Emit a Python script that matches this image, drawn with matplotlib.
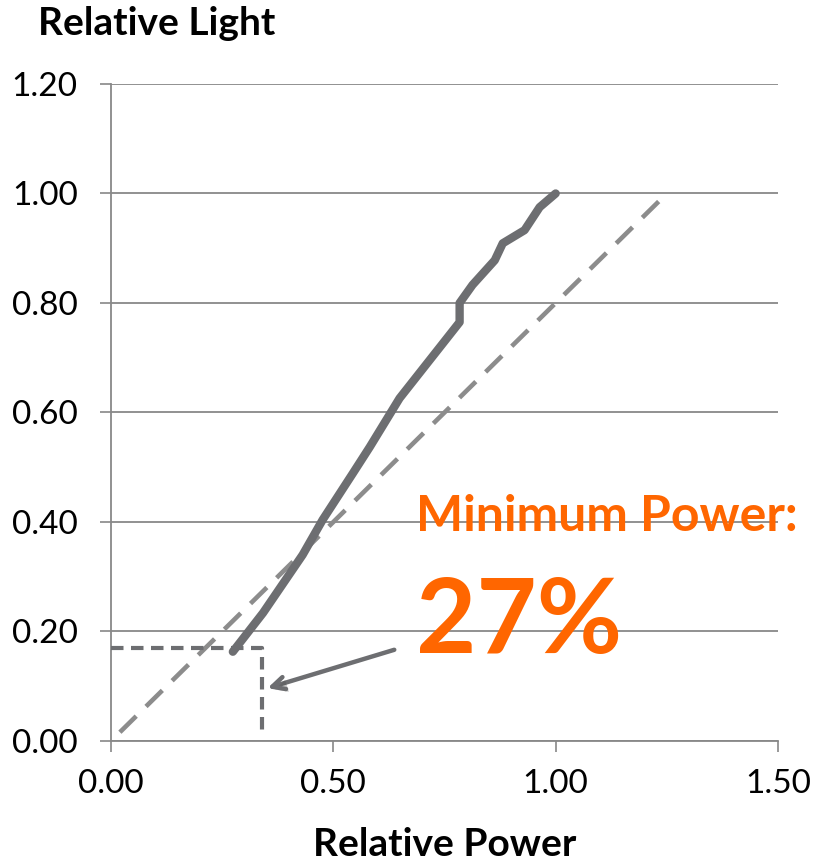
import matplotlib
matplotlib.use("Agg")
import matplotlib.pyplot as plt
import matplotlib.patheffects as pe

plt.rcParams["font.family"] = ["Lato", "DejaVu Sans"]

# measured curve: relative power vs relative light
power = [0.274, 0.342, 0.431, 0.476, 0.544, 0.582, 0.649, 0.784, 0.784, 0.813, 0.863, 0.881, 0.930, 0.964, 1.00]
light = [0.163, 0.234, 0.340, 0.404, 0.489, 0.537, 0.626, 0.765, 0.800, 0.833, 0.878, 0.909, 0.933, 0.975, 1.00]

# reference diagonal
ref_x = [0.02, 1.25]
ref_y = [0.016, 1.00]

# minimum power marker (step)
min_x = [0.00, 0.339, 0.339]
min_y = [0.170, 0.170, 0.010]

# arrow from label to marker
arrow_from = (0.643, 0.168)
arrow_to = (0.346, 0.095)

xticks = [0.0, 0.5, 1.0, 1.5]
yticks = [0.0, 0.2, 0.4, 0.6, 0.8, 1.0, 1.2]

GRID = "#888888"
LINE = "#6d6e71"
ORANGE = "#ff6600"

fig = plt.figure(figsize=(8.15, 8.64), dpi=100)
ax = fig.add_axes([0.1362, 0.1424, 0.8184, 0.7604])

ax.set_xlim(0, 1.5)
ax.set_ylim(0, 1.2)
ax.set_xticks(xticks)
ax.set_yticks(yticks)
ax.set_xticklabels([f"{v:.2f}" for v in xticks])
ax.set_yticklabels([f"{v:.2f}" for v in yticks])
ax.tick_params(axis="both", labelsize=24, color=GRID, width=1.2, length=8, direction="out")
ax.tick_params(axis="x", pad=12)
ax.tick_params(axis="y", pad=16)
ax.grid(axis="y", color=GRID, lw=1.3)
ax.set_axisbelow(True)
for s in ["top", "right"]:
    ax.spines[s].set_visible(False)
for s in ["left", "bottom"]:
    ax.spines[s].set_color(GRID)
    ax.spines[s].set_linewidth(1.3)

ax.plot(ref_x, ref_y, ls=(0, (5, 3.0)), color="#8c8c8c", lw=3.3, zorder=3)
ax.plot(min_x, min_y, ls=(0, (3, 1.8)), color=LINE, lw=3.0, zorder=3)
ax.plot(power, light, color=LINE, lw=6.0, solid_capstyle="round", solid_joinstyle="round", zorder=4)

ax.annotate("", xy=arrow_to, xytext=arrow_from,
            arrowprops=dict(arrowstyle="->,head_length=0.9,head_width=0.45", color=LINE, lw=3.2,
                            path_effects=[pe.SimplePatchShadow(offset=(2, -2), alpha=0.3), pe.Normal()]),
            zorder=5)

ax.text(0.685, 0.41, "Minimum Power:", color=ORANGE, fontsize=36, fontweight="bold", va="center", ha="left")
ax.text(0.685, 0.215, "27%", color=ORANGE, fontsize=75, fontweight="bold", va="center", ha="left")

fig.text(0.047, 0.973, "Relative Light", fontsize=28, fontweight="bold", va="center", ha="left")
fig.text(0.546, 0.022, "Relative Power", fontsize=28, fontweight="bold", va="center", ha="center")

fig.savefig("out.png", dpi=100)
